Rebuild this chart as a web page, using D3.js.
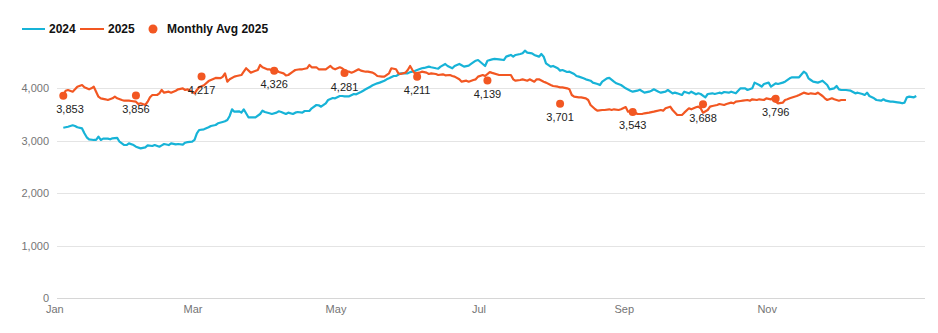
<!DOCTYPE html>
<html>
<head>
<meta charset="utf-8">
<script src="https://cdn.jsdelivr.net/npm/d3@7/dist/d3.min.js"></script>
<style>
  html, body { margin: 0; padding: 0; background: #ffffff; }
  svg { display: block; font-family: "Liberation Sans", Arial, Helvetica, sans-serif; }
</style>
</head>
<body>
<svg id="chart" width="938" height="333"></svg>
<script>
// ---------- DATA ----------
// [day of year (0 = Jan 1), value]
const series2024 = [
[0,3243],[2,3262],[4,3289],[5,3275],[6,3251],[8,3230],[9,3137],[10,3061],[11,3023],[13,3010],[14,3010],[15,3072],[16,3010],[17,3036],[19,3036],[20,3023],[21,3042],[23,3049],[24,2977],[26,2914],[27,2914],[28,2946],[30,2914],[31,2882],[33,2851],[35,2869],[36,2907],[38,2895],[39,2914],[41,2882],[42,2907],[43,2933],[45,2914],[46,2946],[48,2926],[49,2933],[51,2920],[52,2958],[53,2970],[55,2977],[56,3010],[57,3137],[58,3200],[60,3213],[62,3251],[63,3275],[65,3295],[66,3327],[68,3352],[69,3365],[70,3390],[71,3466],[72,3593],[73,3548],[75,3555],[76,3529],[77,3593],[78,3517],[79,3441],[81,3441],[82,3441],[84,3504],[85,3567],[86,3542],[88,3517],[89,3504],[91,3529],[92,3555],[93,3542],[95,3504],[96,3529],[98,3504],[99,3529],[100,3542],[102,3529],[103,3561],[105,3561],[106,3612],[108,3675],[109,3669],[110,3643],[112,3707],[113,3770],[115,3808],[116,3802],[118,3846],[119,3846],[120,3840],[122,3840],[124,3884],[125,3878],[127,3922],[128,3947],[129,3973],[131,4023],[132,4049],[134,4087],[135,4100],[137,4137],[138,4163],[139,4182],[141,4226],[142,4226],[144,4277],[145,4277],[147,4277],[148,4300],[149,4309],[150,4322],[151,4340],[153,4373],[154,4379],[156,4404],[157,4392],[159,4373],[160,4366],[161,4404],[163,4455],[164,4417],[166,4373],[167,4417],[169,4455],[170,4430],[171,4404],[173,4424],[174,4455],[176,4517],[177,4530],[179,4455],[180,4417],[181,4517],[183,4543],[184,4553],[186,4543],[188,4530],[189,4594],[191,4626],[192,4594],[193,4626],[195,4645],[196,4658],[197,4707],[198,4670],[200,4658],[201,4626],[203,4594],[204,4645],[205,4594],[206,4468],[208,4404],[209,4417],[211,4373],[212,4328],[213,4340],[215,4302],[216,4309],[218,4264],[219,4226],[220,4214],[222,4182],[223,4163],[225,4137],[226,4100],[228,4075],[229,4055],[230,4118],[232,4182],[233,4190],[235,4118],[236,4087],[238,4055],[239,4023],[240,3992],[242,3947],[243,3928],[245,3947],[246,3965],[248,3909],[250,3928],[251,3947],[252,3973],[254,3928],[255,3909],[257,3928],[258,3960],[260,3897],[261,3909],[262,3897],[264,3865],[265,3928],[267,3897],[268,3928],[270,3878],[271,3897],[272,3884],[274,3821],[275,3884],[277,3897],[278,3884],[280,3909],[281,3897],[282,3922],[284,3909],[285,3928],[287,3897],[288,3947],[289,3992],[291,3992],[292,3960],[294,3992],[295,4100],[297,4055],[298,4023],[299,4075],[301,4100],[302,4023],[304,4087],[305,4075],[307,4100],[308,4118],[310,4182],[311,4201],[313,4201],[314,4201],[316,4308],[317,4277],[318,4182],[319,4150],[320,4118],[322,4100],[323,4118],[324,4137],[326,4055],[327,3973],[329,3992],[330,4036],[331,3973],[332,3960],[334,3960],[336,3947],[338,3897],[339,3909],[341,3884],[342,3865],[343,3909],[344,3846],[346,3802],[347,3770],[349,3757],[350,3783],[351,3757],[353,3738],[354,3738],[356,3725],[357,3719],[358,3707],[359,3719],[360,3821],[361,3833],[363,3821],[364,3846]
];

const series2025 = [
[0,3865],[1,3947],[2,3960],[4,3928],[5,3973],[6,4023],[8,4055],[9,4011],[11,3973],[12,3992],[13,4023],[14,3928],[15,3833],[16,3802],[18,3783],[19,3770],[21,3802],[22,3833],[23,3802],[25,3770],[26,3757],[28,3757],[29,3751],[31,3738],[32,3694],[33,3707],[35,3675],[36,3738],[37,3821],[38,3865],[40,3865],[41,3897],[42,3960],[43,3909],[45,3928],[46,3909],[48,3947],[49,3973],[51,3992],[52,3960],[53,3973],[55,3928],[56,3897],[57,3960],[58,4011],[60,4050],[62,4130],[64,4170],[65,4190],[67,4185],[68,4210],[69,4277],[70,4118],[71,4163],[73,4214],[74,4226],[76,4245],[77,4308],[78,4373],[80,4290],[81,4308],[83,4340],[84,4435],[85,4392],[87,4354],[88,4354],[89,4328],[91,4340],[92,4302],[94,4277],[95,4239],[96,4245],[98,4308],[99,4340],[101,4354],[102,4354],[104,4373],[105,4435],[106,4392],[108,4392],[109,4354],[111,4354],[112,4354],[114,4417],[115,4373],[116,4354],[118,4392],[119,4373],[121,4308],[122,4308],[123,4290],[124,4308],[126,4354],[127,4328],[129,4308],[130,4308],[132,4290],[133,4264],[134,4226],[136,4214],[137,4214],[139,4277],[140,4373],[142,4354],[143,4277],[144,4264],[146,4290],[147,4340],[148,4417],[149,4340],[150,4277],[152,4290],[153,4308],[155,4290],[156,4264],[157,4277],[159,4264],[160,4245],[162,4258],[163,4239],[165,4245],[166,4226],[167,4214],[169,4163],[170,4118],[172,4137],[173,4118],[175,4150],[176,4163],[177,4214],[179,4245],[180,4226],[182,4300],[183,4285],[186,4245],[188,4245],[191,4245],[192,4163],[193,4137],[195,4150],[196,4163],[198,4137],[199,4163],[201,4118],[202,4163],[203,4163],[205,4118],[206,4100],[208,4055],[209,4036],[211,4023],[212,4011],[213,4011],[215,3992],[216,3973],[217,3865],[218,3833],[220,3821],[221,3821],[223,3802],[224,3770],[225,3675],[227,3593],[228,3567],[230,3580],[231,3580],[233,3593],[234,3580],[235,3593],[237,3580],[238,3593],[240,3635],[241,3548],[243,3560],[244,3535],[245,3504],[247,3504],[248,3517],[250,3529],[252,3548],[255,3580],[256,3567],[257,3612],[259,3643],[260,3580],[262,3485],[264,3485],[265,3529],[267,3612],[268,3593],[270,3631],[271,3643],[272,3612],[273,3529],[275,3580],[276,3643],[277,3656],[279,3675],[280,3694],[282,3675],[283,3694],[285,3719],[286,3707],[287,3738],[289,3751],[290,3757],[292,3770],[293,3757],[294,3783],[296,3770],[297,3783],[299,3770],[300,3802],[302,3783],[303,3821],[304,3738],[305,3707],[307,3719],[308,3770],[309,3783],[310,3802],[312,3833],[313,3846],[314,3865],[316,3909],[317,3897],[318,3884],[319,3897],[321,3884],[322,3909],[324,3846],[325,3802],[326,3770],[328,3802],[329,3783],[331,3757],[332,3770],[334,3770]
];

const avgMonths = [0,1,2,3,4,5,6,7,8,9,10];   // Jan..Nov 2025 (month index)
const avgValues = [3853,3856,4217,4326,4281,4211,4139,3701,3543,3688,3796];

const yTicks = [0,1000,2000,3000,4000];
const xTickMonths = [0,2,4,6,8,10];            // Jan, Mar, May, Jul, Sep, Nov
const legendLabels = ["2024","2025","Monthly Avg 2025"];

// ---------- STYLE / LAYOUT ----------
const COL2024 = "#17b3d7";
const COL2025 = "#f25722";
const plotLeft = 57, plotRight = 925;
const BASE_YEAR = 2025;
const dayDate = d => new Date(BASE_YEAR, 0, 1 + d);

const svg = d3.select("#chart");

const x = d3.scaleTime()
  .domain([new Date(BASE_YEAR,0,1), new Date(BASE_YEAR+1,0,1)])
  .range([63.3, 918.6]);
const y = d3.scaleLinear().domain([0,5000]).range([298.3, 35.3]);

// gridlines
svg.append("g").selectAll("line").data(yTicks).join("line")
  .attr("x1", plotLeft).attr("x2", plotRight)
  .attr("y1", d => Math.round(y(d)) + 0.5).attr("y2", d => Math.round(y(d)) + 0.5)
  .attr("stroke", d => d === 0 ? "#d6d6d6" : "#e4e4e4").attr("stroke-width", 1);

// y axis labels
const yAxis = d3.axisLeft(y).tickValues(yTicks).tickFormat(d3.format(",")).tickSize(0).tickPadding(0);
const gy = svg.append("g").attr("transform", `translate(${plotLeft - 8},0)`).call(yAxis);
gy.select(".domain").remove();
gy.selectAll("text").attr("fill", "#757575").style("font-size", "11px")
  .style("font-family", "'Liberation Sans', Arial, sans-serif");

// x axis labels
const xAxis = d3.axisBottom(x)
  .tickValues(xTickMonths.map(m => new Date(BASE_YEAR, m, 1)))
  .tickFormat(d3.timeFormat("%b")).tickSize(0).tickPadding(0);
const gx = svg.append("g").attr("transform", `translate(0,${305})`).call(xAxis);
gx.select(".domain").remove();
gx.selectAll("text").attr("fill", "#757575").style("font-size", "11px")
  .attr("dx", -9)
  .style("font-family", "'Liberation Sans', Arial, sans-serif");

// lines
const line = d3.line().x(d => x(dayDate(d[0]))).y(d => y(d[1]));
svg.append("path").datum(series2024).attr("d", line)
  .attr("fill", "none").attr("stroke", COL2024).attr("stroke-width", 2.2)
  .attr("stroke-linejoin", "round");
svg.append("path").datum(series2025).attr("d", line)
  .attr("fill", "none").attr("stroke", COL2025).attr("stroke-width", 2.2)
  .attr("stroke-linejoin", "round");

// monthly average points
const avgData = avgMonths.map((m, i) => ({date: new Date(BASE_YEAR, m, 1), value: avgValues[i]}));
svg.append("g").selectAll("circle").data(avgData).join("circle")
  .attr("cx", d => x(d.date)).attr("cy", d => y(d.value)).attr("r", 4)
  .attr("fill", COL2025);

const fmt = d3.format(",");
svg.append("g").selectAll("text").data(avgData).join("text")
  .attr("x", d => Math.max(x(d.date), plotLeft + 13))
  .attr("y", d => y(d.value) + 17.5)
  .attr("text-anchor", "middle")
  .attr("fill", "#222")
  .style("font-size", "11px")
  .text(d => fmt(d.value));

// legend
const lg = svg.append("g").style("font-size", "12px").style("font-weight", "bold").attr("fill", "#111");
lg.append("line").attr("x1", 22).attr("x2", 45).attr("y1", 29).attr("y2", 29)
  .attr("stroke", COL2024).attr("stroke-width", 2);
lg.append("text").attr("x", 49).attr("y", 33).text(legendLabels[0]);
lg.append("line").attr("x1", 80).attr("x2", 104).attr("y1", 29).attr("y2", 29)
  .attr("stroke", COL2025).attr("stroke-width", 2);
lg.append("text").attr("x", 108).attr("y", 33).text(legendLabels[1]);
lg.append("circle").attr("cx", 153).attr("cy", 29).attr("r", 4.5).attr("fill", COL2025);
lg.append("text").attr("x", 167).attr("y", 33).text(legendLabels[2]);
</script>
</body>
</html>
